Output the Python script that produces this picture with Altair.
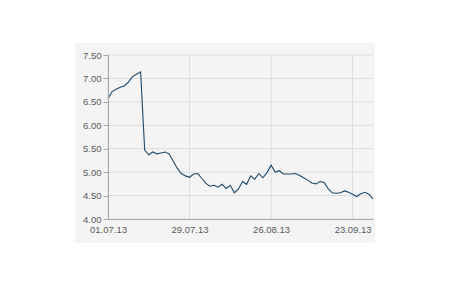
import altair as alt
import pandas as pd

# trading-day index and closing values (01.07.13 .. 30.09.13)
values = [6.57, 6.72, 6.77, 6.81, 6.84, 6.92, 7.04, 7.09, 7.14, 5.47,
          5.37, 5.43, 5.39, 5.41, 5.43, 5.39, 5.24, 5.08, 4.97, 4.92,
          4.89, 4.96, 4.97, 4.87, 4.76, 4.70, 4.72, 4.68, 4.74, 4.65,
          4.72, 4.56, 4.64, 4.80, 4.74, 4.92, 4.85, 4.97, 4.88, 4.99,
          5.15, 5.00, 5.03, 4.96, 4.96, 4.96, 4.97, 4.93, 4.88, 4.83,
          4.77, 4.75, 4.80, 4.78, 4.65, 4.56, 4.55, 4.56, 4.60, 4.57,
          4.53, 4.48, 4.54, 4.57, 4.53, 4.43]
tick_index = [0, 20, 40, 60]
tick_labels = ["01.07.13", "29.07.13", "26.08.13", "23.09.13"]
y_ticks = [4.0, 4.5, 5.0, 5.5, 6.0, 6.5, 7.0, 7.5]

df = pd.DataFrame({"i": list(range(len(values))), "v": values})
xg = pd.DataFrame({"i": tick_index})
yg = pd.DataFrame({"v": y_ticks})

label_expr = " : ".join(
    [f"datum.value == {i} ? '{l}'" for i, l in zip(tick_index, tick_labels)] + ["''"]
)

FONT = "Liberation Sans"
xscale = alt.Scale(domain=[0, 65], nice=False, zero=False)
yscale = alt.Scale(domain=[4.0, 7.5], nice=False, zero=False)

xaxis = alt.Axis(values=tick_index, labelExpr=label_expr, title=None,
                 grid=False, tickSize=0, zindex=1, labelFlush=False,
                 labelPadding=5, domainColor="#a8a8a8",
                 labelColor="#5a5a5a", labelFont=FONT, labelFontSize=9.5)
yaxis = alt.Axis(values=y_ticks, format=".2f", title=None, grid=False,
                 tickSize=5, tickColor="#a8a8a8", zindex=1, labelFlush=False,
                 labelPadding=2, domainColor="#a8a8a8",
                 labelColor="#5a5a5a", labelFont=FONT, labelFontSize=9.5)

panel = alt.Chart(df).mark_rect(color="#f4f4f4", clip=False).encode(
    x=alt.value(-33), x2=alt.value(267), y=alt.value(-12), y2=alt.value(188)
)

xgrid = alt.Chart(xg).mark_rule(color="#dcdcdc", strokeWidth=1).encode(
    x=alt.X("i:Q", scale=xscale, axis=xaxis), y=alt.value(0), y2=alt.value(164)
)
ygrid = alt.Chart(yg).mark_rule(color="#dcdcdc", strokeWidth=1).encode(
    y=alt.Y("v:Q", scale=yscale, axis=yaxis), x=alt.value(0), x2=alt.value(265)
)

line = alt.Chart(df).mark_line(color="#1f4a6b", strokeWidth=1.1).encode(
    x=alt.X("i:Q", scale=xscale, axis=xaxis),
    y=alt.Y("v:Q", scale=yscale, axis=yaxis),
)

chart = alt.layer(panel, xgrid, ygrid, line).properties(
    width=265, height=164,
    autosize=alt.AutoSizeParams(type="none"),
    padding={"left": 108, "top": 55, "right": 77, "bottom": 81},
    background="white",
).configure_view(stroke=None, fill="#f4f4f4")

chart.save("out.html", embed_options={"renderer": "svg", "actions": False})
